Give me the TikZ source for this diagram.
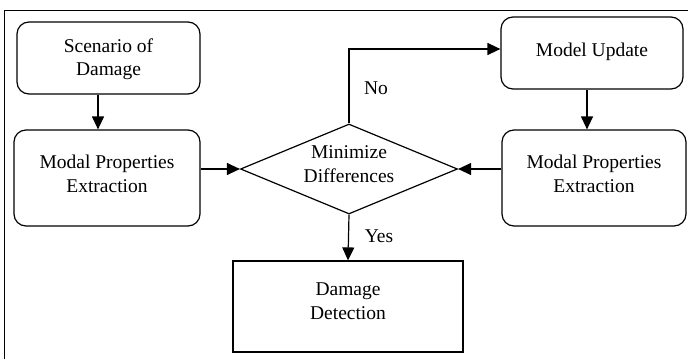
\documentclass[tikz,border=0pt]{standalone}
\usepackage{fontspec}
\setmainfont{Liberation Serif}
\usetikzlibrary{shapes.geometric,arrows.meta}
\begin{document}
\begin{tikzpicture}[x=1pt,y=-1pt,
  every node/.style={font=\fontsize{19.5}{23.5}\selectfont, align=center, inner sep=0pt},
  rbox/.style={draw, line width=1.2pt, rounded corners=12pt, minimum width=#1},
  arr/.style={line width=1.2pt, -{Triangle[length=13pt,width=12pt]}}]
\useasboundingbox (0,0) rectangle (688,359);
\draw[line width=1pt] (4.5,359) -- (4.5,10) -- (688,10);
\node[rbox=183pt, minimum height=72pt] (scen) at (108.5,58) {};
\node (scent) at (108.5,59) {Scenario of\\Damage};
\node[rbox=186pt, minimum height=96pt] (mpl) at (107,178) {};
\node (mplt) at (107,174) {Modal Properties\\Extraction};
\node[draw, diamond, aspect=2.41, line width=1.2pt, minimum width=217pt, minimum height=90pt] (dia) at (349,169) {};
\node (diat) at (349,164) {Minimize\\Differences};
\node[rbox=182pt, minimum height=72pt] (upd) at (592,53) {};
\node (updt) at (592,52) {Model Update};
\node[rbox=184pt, minimum height=96pt] (mpr) at (594,178) {};
\node (mprt) at (594,174) {Modal Properties\\Extraction};
\node[draw, line width=1.2pt, minimum width=230pt, minimum height=91pt] (det) at (348,306.5) {};
\node (dett) at (348,301) {Damage\\Detection};
\coordinate (xa) at (98,0);
\coordinate (xb) at (587,0);
\coordinate (ny) at (0,49);
\draw[arr] (scen.south -| xa) -- (mpl.north -| xa);
\draw[arr] (upd.south -| xb) -- (mpr.north -| xb);
\draw[arr] (mpl.east |- dia.west) -- (dia.west);
\draw[arr] (mpr.west |- dia.east) -- (dia.east);
\coordinate (nc) at (dia.north |- ny);
\draw[arr] (dia.north) -- (nc) -- (upd.west |- nc);
\draw[arr] (dia.south) -- (det.north);
\node (no) at (376,88) {No};
\node (yes) at (379,236) {Yes};
\end{tikzpicture}
\end{document}
